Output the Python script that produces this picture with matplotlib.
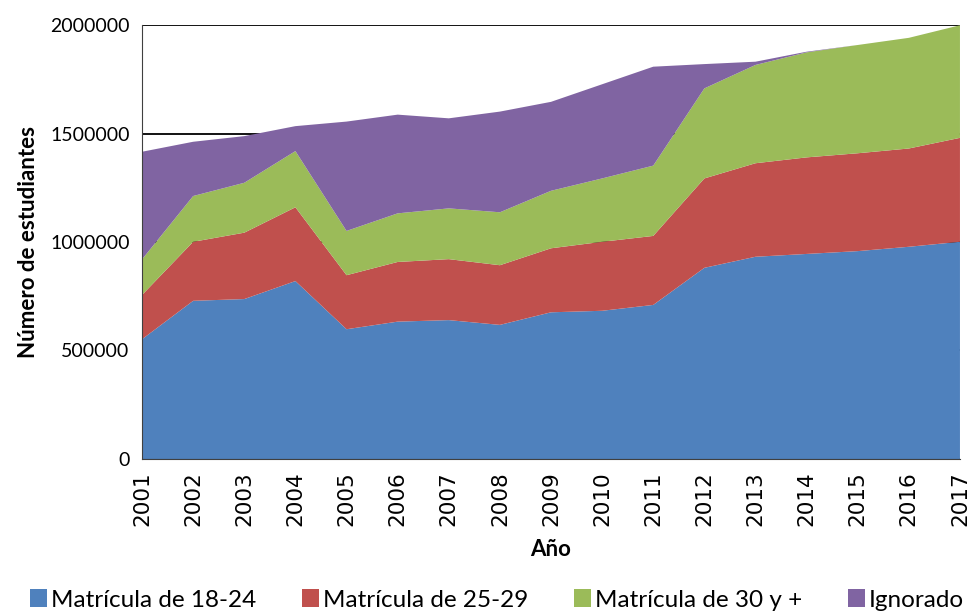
import matplotlib.pyplot as plt
import numpy as np

years = np.arange(2001, 2018)
# values (students per age group)
m18_24 = [552000, 729000, 737000, 820000, 598000, 633000, 640000, 618000, 676000,
          683000, 710000, 881000, 932000, 945000, 958000, 978000, 1001000]
m25_29 = [204000, 272000, 306000, 340000, 249000, 275000, 281000, 275000, 295000,
          318000, 318000, 412000, 431000, 445000, 451000, 453000, 479000]
m30_mas = [164000, 211000, 230000, 259000, 204000, 224000, 234000, 244000, 265000,
           292000, 324000, 415000, 453000, 484000, 499000, 510000, 519000]
ignorado = [496000, 250000, 215000, 115000, 504000, 455000, 415000, 464000, 410000,
            434000, 456000, 112000, 15000, 3000, 0, 0, 0]

labels = ['Matrícula de 18-24', 'Matrícula de 25-29', 'Matrícula de 30 y +', 'Ignorado']
colors = ['#4F81BD', '#C0504D', '#9BBB59', '#8064A2']

plt.rcParams['font.family'] = ['Lato', 'DejaVu Sans']

fig = plt.figure(figsize=(9.73, 6.15), dpi=100)
ax = fig.add_axes([0.146, 0.2537, 0.8406, 0.7056])

ax.stackplot(years, m18_24, m25_29, m30_mas, ignorado, colors=colors, labels=labels, zorder=2)

ax.set_xlim(2001, 2017)
ax.set_ylim(0, 2000000)
ax.set_yticks(np.arange(0, 2000001, 500000))
ax.set_yticklabels([f'{v:d}' for v in range(0, 2000001, 500000)], fontsize=14)
ax.set_xticks(years)
ax.set_xticklabels([str(y) for y in years], rotation=90)
ax.tick_params(axis='x', labelsize=15.5, labelfontfamily='DejaVu Sans')
ax.grid(axis='y', color='black', linewidth=1.3, zorder=1)
ax.set_axisbelow(True)
ax.tick_params(axis='both', length=0, pad=9)

for s in ['top', 'right']:
    ax.spines[s].set_visible(False)
ax.spines['left'].set_color('#404040')
ax.spines['bottom'].set_color('#404040')

ax.set_ylabel('Número de estudiantes', fontsize=16, fontweight='bold', labelpad=8)
ax.set_xlabel('Año', fontsize=16, fontweight='bold')
ax.xaxis.set_label_coords(0.5, -0.185)

ax.legend(loc='center', bbox_to_anchor=(0.434, -0.325), ncol=4, frameon=False,
          fontsize=17.5, handlelength=0.7, handleheight=0.7, handletextpad=0.15,
          columnspacing=1.9, borderaxespad=0)

fig.savefig('out.png', dpi=100)
